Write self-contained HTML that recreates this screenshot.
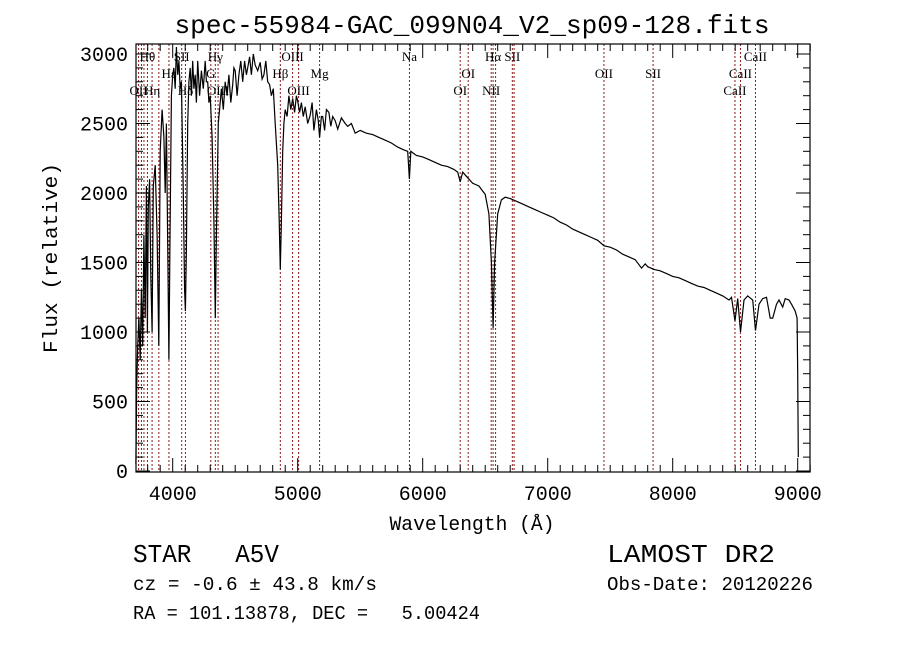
<!DOCTYPE html>
<html><head><meta charset="utf-8"><style>
html,body{margin:0;padding:0;background:#fff;}
svg{display:block;font-family:"Liberation Mono",monospace;}
text{white-space:pre;}
</style></head><body>
<svg id="chart" width="900" height="649" viewBox="0 0 900 649" xmlns="http://www.w3.org/2000/svg" xml:space="preserve">
<rect width="900" height="649" fill="#fff"/>
<text x="472" y="33" font-size="26" text-anchor="middle" textLength="595" lengthAdjust="spacingAndGlyphs">spec-55984-GAC_099N04_V2_sp09-128.fits</text>
<g id="lines"></g>
<g id="labels" font-family="Liberation Serif,serif" font-size="13"></g>
<path id="spec" fill="none" stroke="#000" stroke-width="1.2"/>
<rect x="136" y="44" width="674" height="428" fill="none" stroke="#000" stroke-width="1.2"/>
<g id="ticks"></g>
<text x="472" y="530" font-size="20" text-anchor="middle" textLength="165" lengthAdjust="spacingAndGlyphs">Wavelength (Å)</text>
<text transform="translate(57,258) rotate(-90)" font-size="20" text-anchor="middle" textLength="190" lengthAdjust="spacingAndGlyphs">Flux (relative)</text>
<text x="133" y="562" font-size="26" textLength="146" lengthAdjust="spacingAndGlyphs">STAR   A5V</text>
<text x="607" y="562" font-size="26" textLength="168" lengthAdjust="spacingAndGlyphs">LAMOST DR2</text>
<text x="133" y="590" font-size="19" textLength="244" lengthAdjust="spacingAndGlyphs">cz = -0.6 ± 43.8 km/s</text>
<text x="607" y="590" font-size="19" textLength="206" lengthAdjust="spacingAndGlyphs">Obs-Date: 20120226</text>
<text x="133" y="619" font-size="19" textLength="347" lengthAdjust="spacingAndGlyphs">RA = 101.13878, DEC =   5.00424</text>
</svg>
<script>
const wave=[3706,3712,3720,3730,3740,3750,3760,3770,3780,3790,3798,3805,3815,3825,3835,3845,3860,3875,3889,3900,3915,3930,3940,3950,3962,3970,3978,3990,4000,4010,4020,4030,4040,4050,4060,4070,4085,4095,4102,4110,4120,4130,4140,4150,4160,4170,4180,4190,4200,4215,4230,4245,4260,4270,4280,4290,4300,4315,4330,4341,4350,4365,4380,4390,4405,4420,4435,4450,4465,4480,4490,4500,4515,4530,4545,4560,4575,4590,4600,4615,4630,4645,4660,4680,4700,4715,4730,4745,4760,4775,4790,4805,4820,4840,4852,4861,4870,4880,4890,4900,4915,4930,4945,4960,4975,4990,5000,5015,5030,5045,5060,5080,5100,5115,5130,5150,5165,5175,5190,5200,5215,5230,5250,5265,5280,5300,5320,5350,5380,5400,5430,5460,5500,5550,5600,5650,5700,5750,5800,5850,5880,5894,5905,5950,6000,6050,6100,6150,6200,6250,6280,6300,6320,6350,6400,6450,6500,6530,6550,6563,6575,6600,6630,6660,6700,6750,6800,6850,6900,6950,7000,7050,7100,7150,7200,7250,7300,7350,7400,7450,7500,7550,7600,7650,7700,7750,7780,7800,7850,7900,7950,8000,8050,8100,8150,8200,8250,8300,8350,8400,8450,8470,8498,8520,8542,8570,8600,8640,8662,8690,8720,8750,8780,8800,8830,8850,8880,8900,8930,8950,8980,8995,9000,9005];
const flux=[50,600,900,1100,800,1300,900,1700,1100,2050,1000,1900,2100,1400,1000,2050,2200,1700,900,2300,2600,2400,2000,2500,1500,800,1600,2700,2850,2900,2750,3050,2850,2950,2750,2800,2000,1300,1150,1600,2500,2800,2900,2700,2950,2750,2850,2650,2950,2700,2880,2750,2950,2800,2800,2650,2700,2400,1800,1100,1700,2500,2650,2750,2600,2800,2700,2850,2650,2780,2900,2880,2700,2850,2950,2800,2950,2850,2900,2980,2850,3000,2920,2880,2940,2820,2850,2950,2800,2780,2700,2750,2500,2200,1800,1450,1800,2300,2500,2600,2550,2700,2600,2680,2580,2700,2660,2580,2650,2550,2620,2500,2560,2650,2450,2600,2520,2400,2550,2550,2450,2600,2580,2480,2550,2520,2460,2540,2500,2480,2500,2430,2450,2430,2420,2400,2380,2360,2330,2310,2300,2100,2300,2270,2260,2240,2220,2200,2190,2170,2150,2080,2150,2120,2070,2050,1990,1850,1500,1030,1500,1850,1950,1970,1960,1940,1920,1900,1880,1860,1840,1820,1790,1770,1740,1720,1700,1680,1660,1620,1610,1590,1560,1540,1520,1460,1490,1470,1450,1440,1420,1400,1390,1370,1350,1330,1320,1300,1280,1260,1230,1250,1080,1240,1000,1230,1260,1230,1010,1200,1240,1250,1100,1100,1200,1230,1180,1240,1230,1200,1150,1100,700,100];
const lineWaves=[3727,3750,3770,3798,3835,3889,3970,4072,4102,4305,4341,4363,4861,4959,5007,5175,5894,6300,6364,6548,6563,6583,6717,6731,7450,7843,8498,8542,8662];
const lineNames=["OII","H","H","Hθ","Hη","H","Hε","SII","Hδ","G","Hγ","OIII","Hβ","OIII","OIII","Mg","Na","OI","OI","NII","Hα","NII","SII","SII","OII","SII","CaII","CaII","CaII"];
const labelRows=[3,0,0,1,3,0,2,1,3,2,1,3,2,1,3,2,1,3,2,3,1,0,1,0,2,2,3,2,1];
const xTicks=[4000,5000,6000,7000,8000,9000];
const yTicks=[0,500,1000,1500,2000,2500,3000];
const NS="http://www.w3.org/2000/svg";
const x=w=>172.7+(w-4000)*0.125;
const y=f=>471-f*0.139;
let d='';
for(let i=0;i<wave.length;i++){d+=(i?'L':'M')+x(wave[i]).toFixed(1)+','+Math.max(44,y(flux[i])).toFixed(1);}
document.getElementById('spec').setAttribute('d',d);
const lg=document.getElementById('lines'),lb=document.getElementById('labels');
const rowY=[0,61,78,95];
lineWaves.forEach((w,i)=>{
 const l=document.createElementNS(NS,'line');
 
 
 l.setAttribute('x1',x(w));l.setAttribute('x2',x(w));l.setAttribute('y1',44);l.setAttribute('y2',472);
 l.setAttribute('stroke','#8b1a1a');l.setAttribute('stroke-dasharray','2,2');l.setAttribute('stroke-width','1');
 lg.appendChild(l);
 if(labelRows[i]>0){
  const t=document.createElementNS(NS,'text');
  
  
  t.setAttribute('x',x(w));t.setAttribute('y',rowY[labelRows[i]]);t.setAttribute('text-anchor','middle');
  t.textContent=lineNames[i];lb.appendChild(t);
 }
});
const tg=document.getElementById('ticks');
function mk(tag,attrs){const e=document.createElementNS(NS,tag);for(const k in attrs)e.setAttribute(k,attrs[k]);tg.appendChild(e);return e;}
for(let w=3800;w<=9100;w+=100){
 const major=w%1000===0;const len=major?14:7;
 const a=mk('line',{x1:x(w),x2:x(w),y1:472,y2:472-len,stroke:'#000'});
 
 
 const b=mk('line',{x1:x(w),x2:x(w),y1:44,y2:44+len,stroke:'#000'});
 
 
}
xTicks.forEach(w=>{const t=mk('text',{x:x(w),y:500,'font-size':20,'text-anchor':'middle'});t.textContent=w;
 
 });
for(let f=0;f<=3000;f+=100){
 const major=f%500===0;const len=major?14:7;
 const a=mk('line',{x1:136,x2:136+len,y1:y(f),y2:y(f),stroke:'#000'});
 
 
 const b=mk('line',{x1:810,x2:810-len,y1:y(f),y2:y(f),stroke:'#000'});
 
 
}
yTicks.forEach(f=>{const t=mk('text',{x:128,y:y(f)+7,'font-size':20,'text-anchor':'end'});t.textContent=f;
 
 });
</script>
</body></html>
